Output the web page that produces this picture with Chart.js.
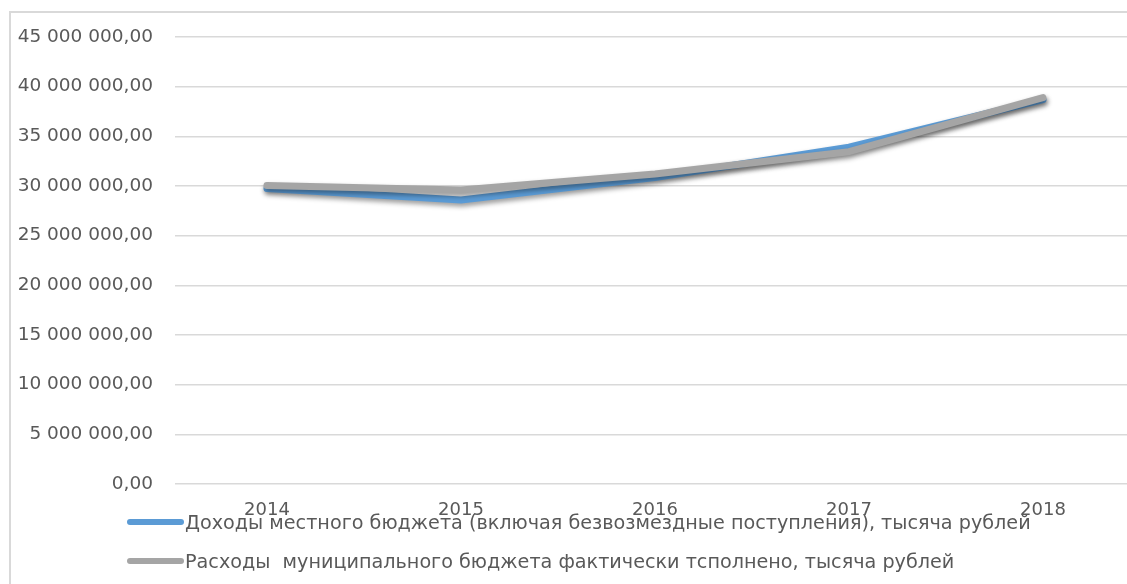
<!DOCTYPE html>
<html lang="ru">
<head>
<meta charset="utf-8">
<title>Бюджет муниципального образования, 2014–2018</title>
<script src="https://cdn.jsdelivr.net/npm/chart.js@4.4.1/dist/chart.umd.min.js"></script>
<style>
  html, body { margin: 0; padding: 0; background: #ffffff; }
  #wrap { position: relative; width: 1127px; height: 584px; }
  canvas { display: block; }
</style>
</head>
<body>
<div id="wrap"><canvas id="chart" width="1127" height="584"></canvas></div>
<script>
// Years on the horizontal axis
const years = ['2014', '2015', '2016', '2017', '2018'];

// Local budget revenues (incl. grants), thousand roubles
const revenues = [29750000, 28600000, 30850000, 33900000, 38700000];

// Municipal budget expenditures actually executed, thousand roubles
const expenditures = [30050000, 29600000, 31200000, 33450000, 38900000];

// Value axis ticks
const yTicks = [0, 5000000, 10000000, 15000000, 20000000, 25000000, 30000000, 35000000, 40000000, 45000000];

const seriesNames = [
  'Доходы местного бюджета (включая безвозмездные поступления), тысяча рублей',
  'Расходы  муниципального бюджета фактически тсполнено, тысяча рублей'
];

const FONT = '"DejaVu Sans", "Liberation Sans", sans-serif';
const TEXT = '#595959';
const GRID = '#d9d9d9';

// "45 000 000,00" style number formatting
function fmt(v) {
  const int = Math.round(v).toString().replace(/\B(?=(\d{3})+(?!\d))/g, ' ');
  return int + ',00';
}

const toPoints = arr => years.map((y, i) => ({ x: Number(y), y: arr[i] }));

// Outer frame around the whole chart object
const framePlugin = {
  id: 'frame',
  beforeDraw(chart) {
    const ctx = chart.ctx;
    ctx.save();
    ctx.fillStyle = '#ffffff';
    ctx.fillRect(0, 0, chart.width, chart.height);
    ctx.strokeStyle = GRID;
    ctx.lineWidth = 2;
    ctx.strokeRect(10, 12, chart.width + 20, chart.height + 20);
    ctx.restore();
  }
};

// Soft drop shadow under the lines
const shadowPlugin = {
  id: 'lineShadow',
  beforeDatasetDraw(chart) {
    const ctx = chart.ctx;
    ctx.save();
    ctx.shadowColor = 'rgba(0,0,0,0.4)';
    ctx.shadowBlur = 5;
    ctx.shadowOffsetX = 1;
    ctx.shadowOffsetY = 3;
  },
  afterDatasetDraw(chart) {
    chart.ctx.restore();
  }
};

// Legend: one entry per row, left aligned under the axis
const legendPlugin = {
  id: 'rowLegend',
  afterDraw(chart) {
    const ctx = chart.ctx;
    const rows = [522, 561];
    ctx.save();
    chart.data.datasets.forEach((ds, i) => {
      const y = rows[i];
      ctx.strokeStyle = ds.borderColor;
      ctx.lineWidth = 6;
      ctx.lineCap = 'round';
      ctx.beginPath();
      ctx.moveTo(130, y);
      ctx.lineTo(181, y);
      ctx.stroke();
      ctx.fillStyle = TEXT;
      ctx.font = '19.2px ' + FONT;
      ctx.textBaseline = 'middle';
      ctx.textAlign = 'left';
      ctx.fillText(ds.label, 185, y + 2);
    });
    ctx.restore();
  }
};

new Chart(document.getElementById('chart'), {
  type: 'line',
  data: {
    datasets: [
      {
        label: seriesNames[0],
        data: toPoints(revenues),
        borderColor: '#5b9bd5',
        backgroundColor: '#5b9bd5',
        borderWidth: 7,
        borderCapStyle: 'round',
        borderJoinStyle: 'round',
        pointRadius: 0,
        tension: 0,
        order: 1
      },
      {
        label: seriesNames[1],
        data: toPoints(expenditures),
        borderColor: '#a5a5a5',
        backgroundColor: '#a5a5a5',
        borderWidth: 7,
        borderCapStyle: 'round',
        borderJoinStyle: 'round',
        pointRadius: 0,
        tension: 0,
        order: 0
      }
    ]
  },
  options: {
    responsive: false,
    animation: false,
    layout: { padding: { top: 37, left: 15, right: 0, bottom: 0 } },
    plugins: {
      legend: { display: false },
      tooltip: { enabled: false }
    },
    scales: {
      x: {
        type: 'linear',
        min: 2013.526,
        max: 2018.433,
        grid: { display: false },
        border: { display: false },
        afterBuildTicks(scale) {
          scale.ticks = years.map(y => ({ value: Number(y) }));
        },
        afterFit(scale) { scale.height = 100; },
        ticks: {
          color: TEXT,
          font: { family: FONT, size: 18 },
          padding: 8,
          maxRotation: 0,
          callback: v => String(v)
        }
      },
      y: {
        min: 0,
        max: 45000000,
        grid: { color: GRID, lineWidth: 1.5, drawTicks: false },
        border: { display: false },
        afterBuildTicks(scale) {
          scale.ticks = yTicks.map(v => ({ value: v }));
        },
        afterFit(scale) { scale.width = 160; },
        ticks: {
          color: TEXT,
          font: { family: FONT, size: 18.5 },
          padding: 22,
          callback: v => fmt(v)
        }
      }
    }
  },
  plugins: [framePlugin, shadowPlugin, legendPlugin]
});
</script>
</body>
</html>
